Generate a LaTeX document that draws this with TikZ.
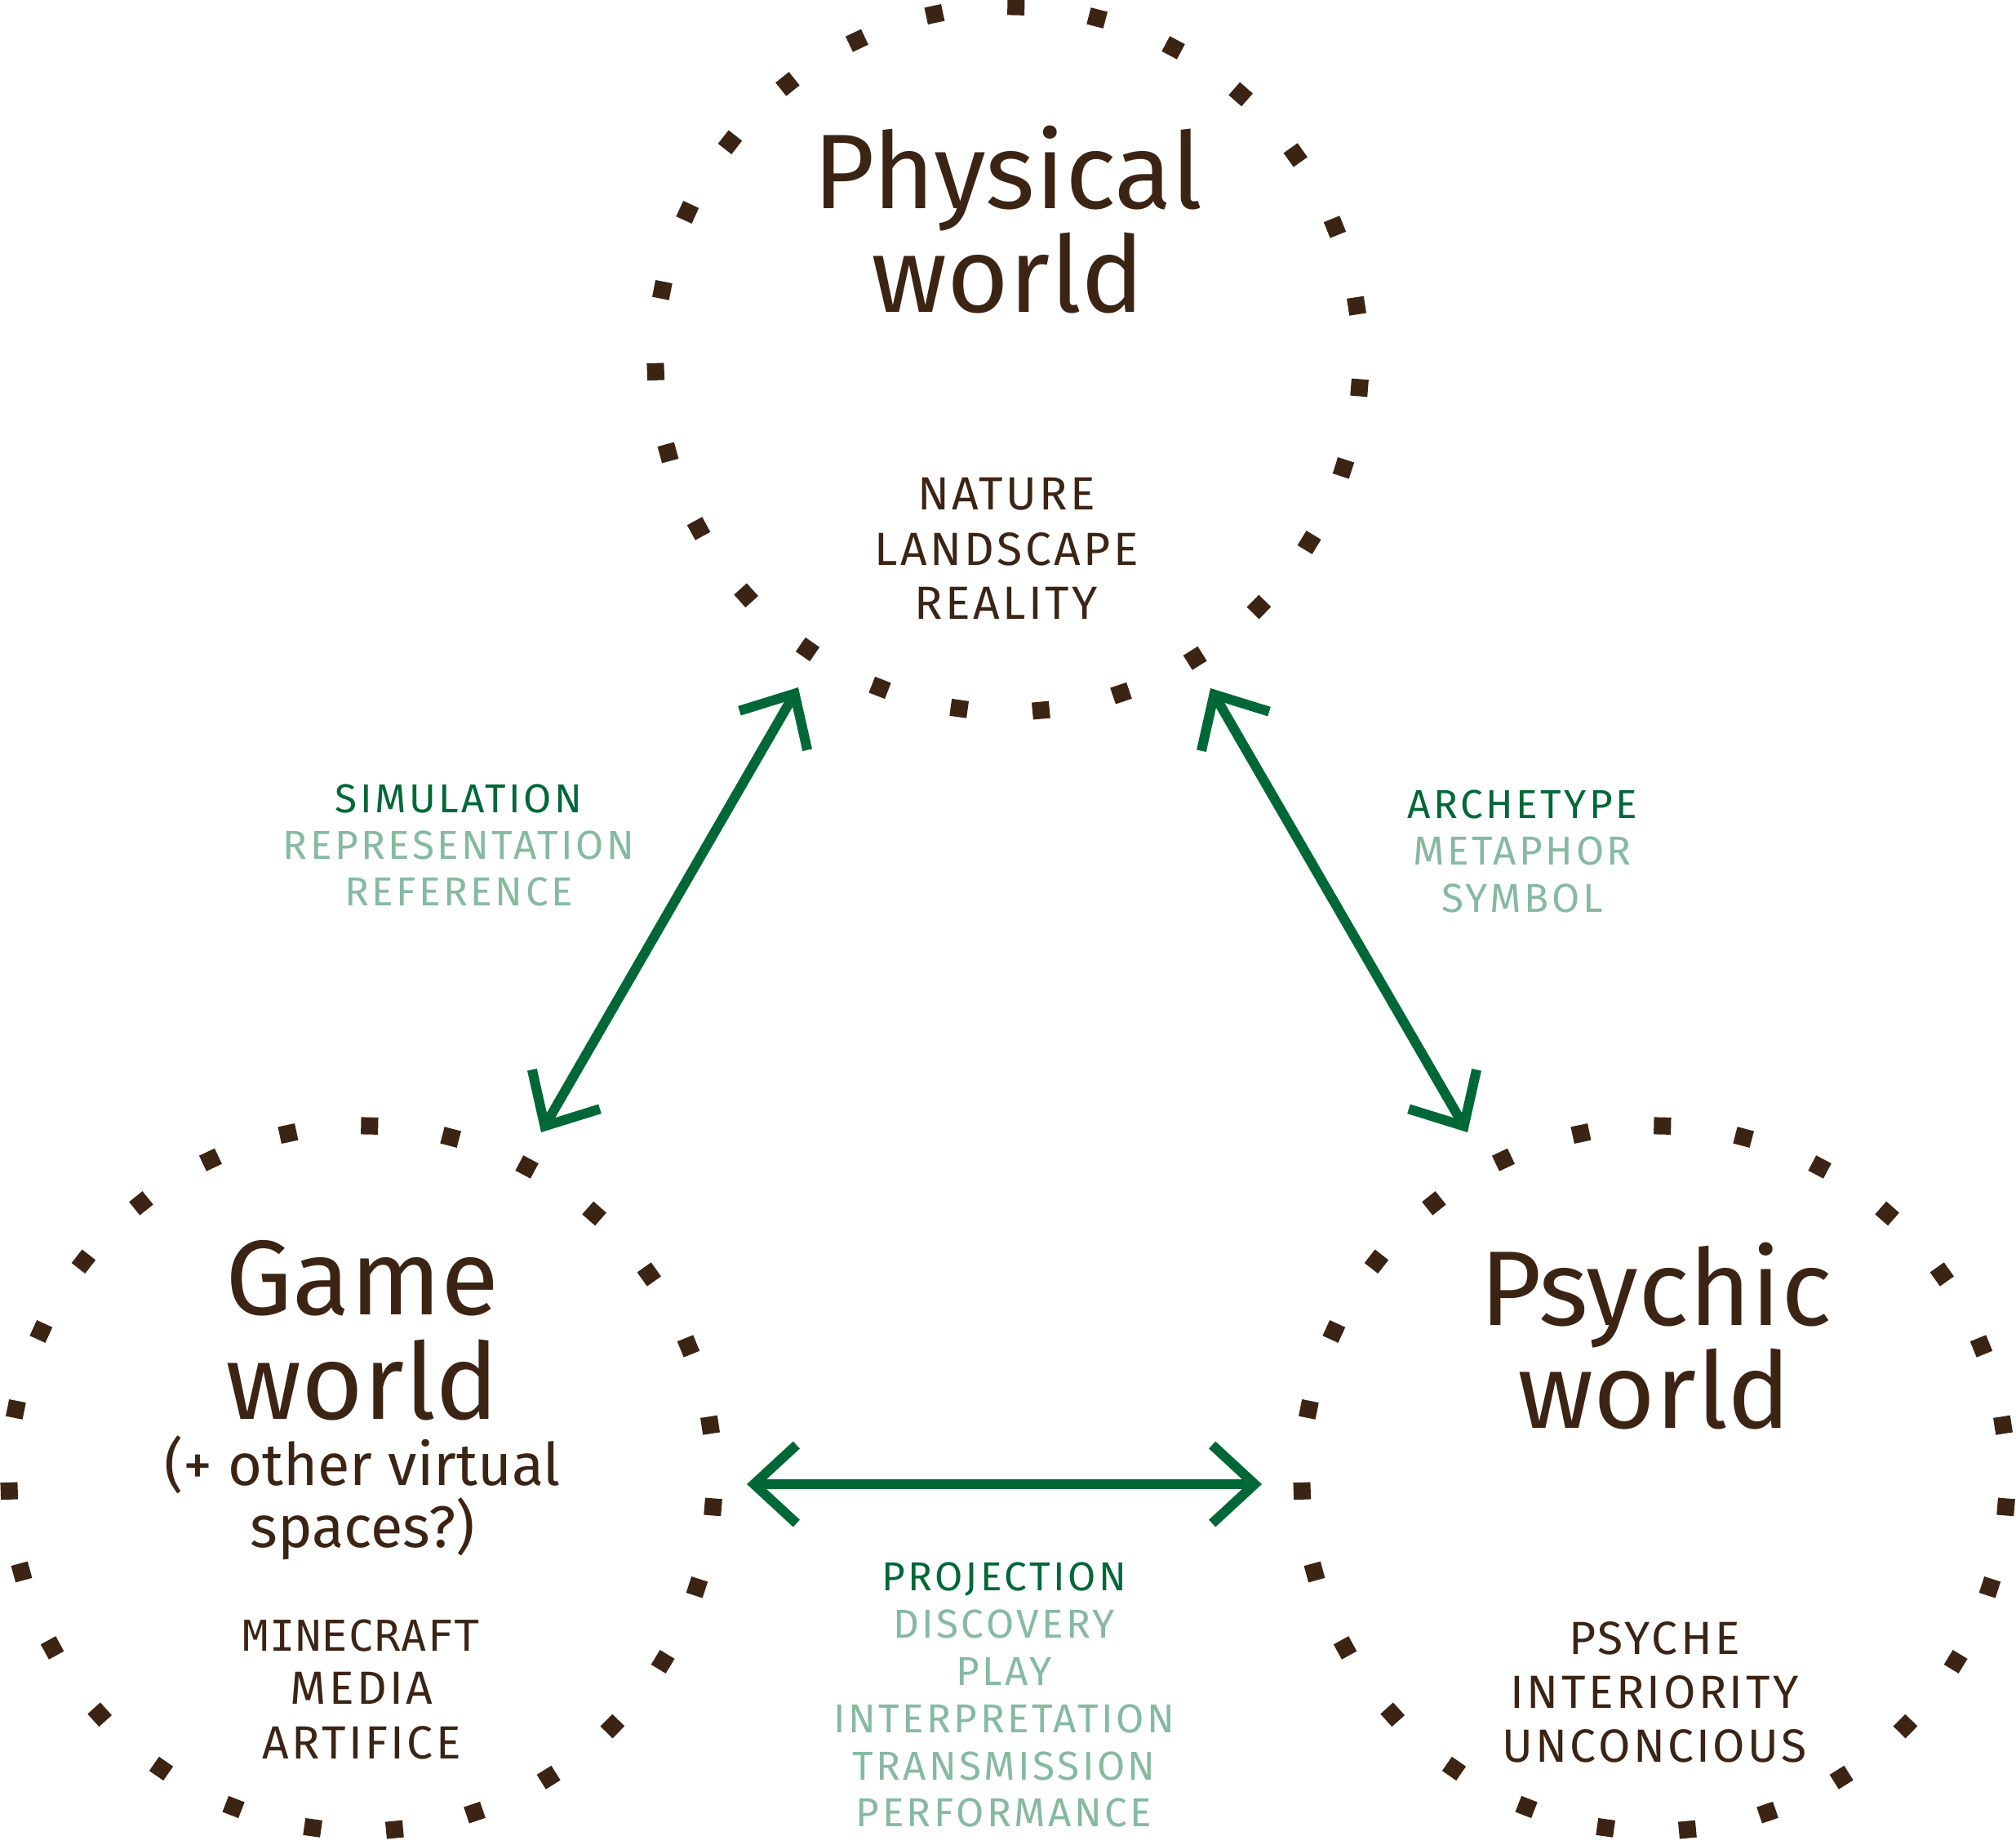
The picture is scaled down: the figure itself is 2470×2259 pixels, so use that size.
\documentclass[tikz,border=0pt]{standalone}
\usepackage{fontspec}
\setmainfont{Fira Sans}
\newfontfamily\capfont[LetterSpace=6]{Fira Sans}
\newfontfamily\linkfont[LetterSpace=7]{Fira Sans}
\newfontfamily\pixfont[LetterSpace=2]{DejaVu Sans Mono}
\usetikzlibrary{arrows.meta,calc}
\definecolor{brownink}{RGB}{60,36,21}
\definecolor{darkgreen}{RGB}{0,104,55}
\definecolor{lightgreen}{RGB}{134,186,160}
\tikzset{
  title/.style={anchor=base, text=brownink, font=\fontsize{130}{130}\selectfont, inner sep=0pt},
  subtitle/.style={anchor=base, text=brownink, font=\fontsize{72}{72}\selectfont, inner sep=0pt},
  worditem/.style={anchor=base, text=brownink, font=\capfont\fontsize{57}{57}\selectfont, inner sep=0pt},
  pixitem/.style={anchor=base, text=brownink, font=\pixfont\fontsize{52}{52}\selectfont, inner sep=0pt},
  linkmain/.style={anchor=base, text=darkgreen, font=\linkfont\fontsize{49.5}{49.5}\selectfont, inner sep=0pt},
  linkitem/.style={linkmain, text=lightgreen},
  link/.style={draw=darkgreen, line width=12pt,
    {Straight Barb[length=52pt,width=96pt,sharp]}-{Straight Barb[length=52pt,width=96pt,sharp]}},
  dotsq/.style={fill=brownink, rectangle, minimum size=21pt, inner sep=0pt},
  world/.style={circle, minimum size=864pt, inner sep=0pt}
}
\begin{document}
\begin{tikzpicture}[x=1pt,y=-1pt]
\useasboundingbox (0,0) rectangle (2470,2259);
% circles (centres)
\node[world] (phys) at (1235,440) {};
\node[world] (game) at (443,1811) {};
\node[world] (psy) at (2027,1811) {};
% dotted rings
\foreach \c in {phys,game,psy}{
  \foreach \k in {0,...,26}{
    \pgfmathsetmacro\a{271.3+\k*360/27}
    \node[dotsq, rotate=-\a] (d-\c-\k) at ($(\c.center)+(\a:432)$) {};
  }
}
% titles
\node[title] (physA) at (1235,255) {Physical};
\node[title] (physB) at (1235,382) {world};
\node[title] (gameA) at (444,1610) {Game};
\node[title] (gameB) at (444,1738) {world};
\node[subtitle] (gameC) at (444,1819) {(+ other virtual};
\node[subtitle] (gameD) at (444,1895) {spaces?)};
\node[title] (psyA) at (2029,1623) {Psychic};
\node[title] (psyB) at (2027,1749) {world};
% items
\node[worditem] (n1) at (1233,624) {NATURE};
\node[worditem] (n2) at (1233,692) {LANDSCAPE};
\node[worditem] (n3) at (1233,758) {REALITY};
\node[pixitem] (m1) at (443,2022) {MINECRAFT};
\node[worditem] (m2) at (443,2087) {MEDIA};
\node[worditem] (m3) at (443,2154) {ARTIFICE};
\node[worditem] (p1) at (2027,2026) {PSYCHE};
\node[worditem] (p2) at (2027,2092) {INTERIORITY};
\node[worditem] (p3) at (2027,2158) {UNCONCIOUS};
% link labels
\node[linkmain] (s1) at (562,995) {SIMULATION};
\node[linkitem] (s2) at (562,1052) {REPRESENTATION};
\node[linkitem] (s3) at (562,1109) {REFERENCE};
\node[linkmain] (a1) at (1865,1002) {ARCHETYPE};
\node[linkitem] (a2) at (1865,1059) {METAPHOR};
\node[linkitem] (a3) at (1865,1117) {SYMBOL};
\node[linkmain] (j1) at (1230,1948) {PROJECTION};
\node[linkitem] (j2) at (1230,2006) {DISCOVERY};
\node[linkitem] (j3) at (1230,2064) {PLAY};
\node[linkitem] (j4) at (1230,2122) {INTERPRETATION};
\node[linkitem] (j5) at (1230,2180) {TRANSMISSION};
\node[linkitem] (j6) at (1230,2237) {PERFORMANCE};
% arrow ends
\coordinate (pgTop) at (978,842);
\coordinate (pgBot) at (663,1387);
\coordinate (ppTop) at (1483,843);
\coordinate (ppBot) at (1798,1387);
\coordinate (gpL) at (915,1818);
\coordinate (gpR) at (1546,1818);
\draw[link] (pgTop) -- (pgBot);
\draw[link] (ppTop) -- (ppBot);
\draw[link] (gpL) -- (gpR);
\end{tikzpicture}
\end{document}
